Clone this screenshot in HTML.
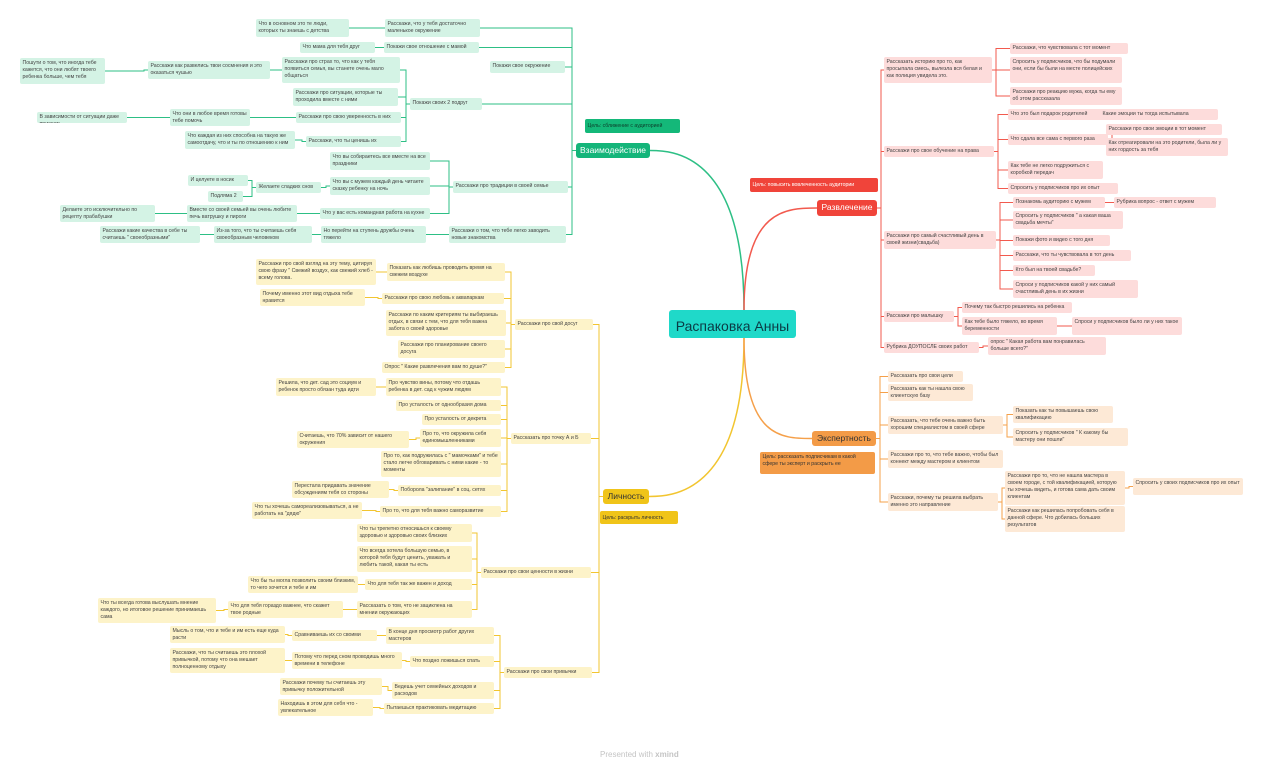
<!DOCTYPE html>
<html><head><meta charset="utf-8"><style>
body{margin:0;width:1280px;height:765px;background:#fff;position:relative;overflow:hidden;font-family:"Liberation Sans","Noto Sans CJK SC",sans-serif}
.n{position:absolute;font-size:5.2px;line-height:7.3px;padding:1.5px 2.5px;border-radius:2px;box-sizing:border-box;color:#444;overflow:hidden}
.g{background:#d4f3e5}.r{background:#fddcdb}.o{background:#fde9d6}.y{background:#fdf3c9}
.b{font-size:8.5px;line-height:14px;border-radius:3px;text-align:center;padding:0 4px}
svg{position:absolute;left:0;top:0}
</style></head><body>
<svg id="s" width="1280" height="765"></svg>
<div class="n" id="C" style="left:669px;top:310px;width:127px;height:28px;background:#1fd9c9;font-size:14px;line-height:28px;text-align:center;color:#0b3a44;border-radius:3px">Распаковка Анны</div>
<div class="n b" id="G" style="left:576px;top:143px;width:74px;height:15px;background:#14b57a;color:#fff">Взаимодействие</div>
<div class="n b" id="R" style="left:817px;top:200px;width:60px;height:16px;background:#f0443a;color:#fff">Развлечение</div>
<div class="n b" id="O" style="left:812px;top:431px;width:64px;height:15px;background:#f39b47;color:#333">Экспертность</div>
<div class="n b" id="Y" style="left:603px;top:489px;width:46px;height:15px;background:#f0c419;color:#333">Личность</div>
<div class="n" style="left:585px;top:119px;width:95px;height:14px;background:#14b879;color:#0c3d2a;line-height:11px">Цель: сближение с аудиторией</div>
<div class="n" style="left:750px;top:178px;width:128px;height:14px;background:#f0443a;color:#fff;line-height:11px">Цель: повысить вовлеченность аудитории</div>
<div class="n" style="left:760px;top:452px;width:115px;height:22px;background:#f39b47;color:#333">Цель: рассказать подписчикам в какой сфере ты эксперт и раскрыть ее</div>
<div class="n" style="left:600px;top:511px;width:78px;height:13px;background:#f0c419;color:#333;line-height:10px">Цель: раскрыть личность</div>

<!-- green -->
<div class="n g" id="g1" style="left:490px;top:61px;width:75px;height:12px">Покажи свое окружение</div>
<div class="n g" id="g2" style="left:385px;top:19px;width:95px;height:18px">Расскажи, что у тебя достаточно маленькое окружение</div>
<div class="n g" id="g3" style="left:256px;top:19px;width:93px;height:18px">Что в основном это те люди, которых ты знаешь с детства</div>
<div class="n g" id="g4" style="left:384px;top:42px;width:95px;height:11px">Покажи свое отношение с мамой</div>
<div class="n g" id="g5" style="left:300px;top:42px;width:75px;height:11px">Что мама для тебя друг</div>
<div class="n g" id="g6" style="left:410px;top:98px;width:72px;height:12px">Покажи своих 2 подруг</div>
<div class="n g" id="g7" style="left:282px;top:57px;width:118px;height:26px">Расскажи про страх то, что как у тебя появиться семья, вы станете очень мало общаться</div>
<div class="n g" id="g8" style="left:148px;top:61px;width:122px;height:18px">Расскажи как развелись твои сосмнения и это оказаться чушью</div>
<div class="n g" id="g9" style="left:20px;top:58px;width:85px;height:26px">Пошути о том, что иногда тебе кажется, что они любят твоего ребенка больше, чем тебя</div>
<div class="n g" id="g10" style="left:293px;top:88px;width:105px;height:18px">Расскажи про ситуации, которые ты проходила вместе с ними</div>
<div class="n g" id="g11" style="left:296px;top:112px;width:105px;height:11px">Расскажи про свою уверенность в них</div>
<div class="n g" id="g12" style="left:170px;top:109px;width:80px;height:17px">Что они в любое время готовы тебе помочь</div>
<div class="n g" id="g13" style="left:37px;top:112px;width:90px;height:11px">В зависимости от ситуации даже приехать</div>
<div class="n g" id="g14" style="left:306px;top:136px;width:95px;height:11px">Расскажи, что ты ценишь их</div>
<div class="n g" id="g15" style="left:185px;top:131px;width:110px;height:18px">Что каждая из них способна на такую же самоотдачу, что и ты по отношению к ним</div>
<div class="n g" id="g16" style="left:453px;top:181px;width:115px;height:12px">Расскажи про традиции в своей семье</div>
<div class="n g" id="g17" style="left:330px;top:152px;width:100px;height:18px">Что вы собираетесь все вместе на все праздники</div>
<div class="n g" id="g18" style="left:330px;top:177px;width:100px;height:18px">Что вы с мужем каждый день читаете сказку ребенку на ночь</div>
<div class="n g" id="g19" style="left:256px;top:182px;width:65px;height:11px">Желаете сладких снов</div>
<div class="n g" id="g20" style="left:188px;top:175px;width:60px;height:11px">И целуете в носик</div>
<div class="n g" id="g21" style="left:208px;top:191px;width:35px;height:11px">Подляма 2</div>
<div class="n g" id="g22" style="left:320px;top:208px;width:110px;height:11px">Что у вас есть командная работа на кухне</div>
<div class="n g" id="g23" style="left:187px;top:205px;width:110px;height:17px">Вместе со своей семьей вы очень любите печь ватрушку и пироги</div>
<div class="n g" id="g24" style="left:60px;top:205px;width:95px;height:17px">Делаете это исключительно по рецепту прабабушки</div>
<div class="n g" id="g25" style="left:449px;top:226px;width:117px;height:17px">Расскажи о том, что тебе легко заводить новые знакомства</div>
<div class="n g" id="g26" style="left:321px;top:226px;width:105px;height:17px">Но перейти на ступень дружбы очень тяжело</div>
<div class="n g" id="g27" style="left:214px;top:226px;width:98px;height:17px">Из-за того, что ты считаешь себя своеобразным человеком</div>
<div class="n g" id="g28" style="left:100px;top:226px;width:100px;height:17px">Расскажи какие качества в себе ты считаешь " своеобразными"</div>

<!-- red -->
<div class="n r" id="r1" style="left:884px;top:57px;width:108px;height:26px">Рассказать историю про то, как просыпала смесь, вылезла вся белая и как полиция увидела это.</div>
<div class="n r" id="r2" style="left:1010px;top:43px;width:118px;height:11px">Расскажи, что чувствовала с тот момент</div>
<div class="n r" id="r3" style="left:1010px;top:57px;width:112px;height:26px">Спросить у подписчиков, что бы подумали они, если бы были на месте полицейских</div>
<div class="n r" id="r4" style="left:1010px;top:87px;width:112px;height:18px">Расскажи про реакцию мужа, когда ты ему об этом рассказала</div>
<div class="n r" id="r5" style="left:884px;top:146px;width:110px;height:11px">Расскажи про свое обучение на права</div>
<div class="n r" id="r6" style="left:1008px;top:109px;width:95px;height:11px">Что это был подарок родителей</div>
<div class="n r" id="r7" style="left:1100px;top:109px;width:118px;height:11px">Какие эмоции ты тогда испытывала</div>
<div class="n r" id="r8" style="left:1008px;top:134px;width:100px;height:11px">Что сдала все сама с первого раза</div>
<div class="n r" id="r9" style="left:1106px;top:124px;width:116px;height:11px">Расскажи про свои эмоции в тот момент</div>
<div class="n r" id="r10" style="left:1106px;top:138px;width:122px;height:18px">Как отреагировали на это родители, была ли у них гордость за тебя</div>
<div class="n r" id="r11" style="left:1008px;top:161px;width:95px;height:18px">Как тебе не легко подружиться с коробкой передач</div>
<div class="n r" id="r12" style="left:1008px;top:183px;width:110px;height:11px">Спросить у подписчиков про их опыт</div>
<div class="n r" id="r13" style="left:884px;top:231px;width:112px;height:18px">Расскажи про самый счастливый день в своей жизни(свадьба)</div>
<div class="n r" id="r14" style="left:1013px;top:197px;width:92px;height:11px">Познакомь аудиторию с мужем</div>
<div class="n r" id="r15" style="left:1114px;top:197px;width:102px;height:11px">Рубрика вопрос - ответ с мужем</div>
<div class="n r" id="r16" style="left:1013px;top:211px;width:110px;height:18px">Спросить у подписчиков " а какая ваша свадьба мечты"</div>
<div class="n r" id="r17" style="left:1013px;top:235px;width:97px;height:11px">Покажи фото и видео с того дня</div>
<div class="n r" id="r18" style="left:1013px;top:250px;width:118px;height:11px">Расскажи, что ты чувствовала в тот день</div>
<div class="n r" id="r19" style="left:1013px;top:265px;width:82px;height:11px">Кто был на твоей свадьбе?</div>
<div class="n r" id="r20" style="left:1013px;top:280px;width:125px;height:18px">Спроси у подписчиков какой у них самый счастливый день в их жизни</div>
<div class="n r" id="r21" style="left:884px;top:311px;width:70px;height:11px">Расскажи про малышку</div>
<div class="n r" id="r22" style="left:962px;top:302px;width:110px;height:11px">Почему так быстро решились на ребенка</div>
<div class="n r" id="r23" style="left:962px;top:317px;width:95px;height:18px">Как тебе было тяжело, во время беременности</div>
<div class="n r" id="r24" style="left:1072px;top:317px;width:110px;height:18px">Спроси у подписчиков было ли у них такое</div>
<div class="n r" id="r25" style="left:884px;top:342px;width:95px;height:11px">Рубрика ДОУПОСЛЕ своих работ</div>
<div class="n r" id="r26" style="left:988px;top:337px;width:118px;height:18px">опрос " Какая работа вам понравилась больше всего?"</div>

<!-- orange -->
<div class="n o" id="o1" style="left:888px;top:371px;width:75px;height:11px">Рассказать про свои цели</div>
<div class="n o" id="o2" style="left:888px;top:384px;width:85px;height:17px">Рассказать как ты нашла свою клиентскую базу</div>
<div class="n o" id="o3" style="left:888px;top:416px;width:115px;height:18px">Рассказать, что тебе очень важно быть хорошим специалистом в своей сфере</div>
<div class="n o" id="o4" style="left:1013px;top:406px;width:100px;height:17px">Показать как ты повышаешь свою квалификацию</div>
<div class="n o" id="o5" style="left:1013px;top:428px;width:115px;height:18px">Спросить у подписчиков " К какому бы мастеру они пошли"</div>
<div class="n o" id="o6" style="left:888px;top:450px;width:115px;height:18px">Расскажи про то, что тебе важно, чтобы был коннект между мастером и клиентом</div>
<div class="n o" id="o7" style="left:888px;top:493px;width:110px;height:18px">Расскажи, почему ты решила выбрать именно это направление</div>
<div class="n o" id="o8" style="left:1005px;top:471px;width:120px;height:34px">Расскажи про то, что не нашла мастера в своем городе, с той квалификацией, которую ты хочешь видеть, и готова сама дать своим клиентам</div>
<div class="n o" id="o9" style="left:1133px;top:478px;width:110px;height:17px">Спросить у своих подписчиков про их опыт</div>
<div class="n o" id="o10" style="left:1005px;top:506px;width:120px;height:26px">Расскажи как решилась попробовать себя в данной сфере. Что добилась больших результатов</div>

<!-- yellow -->
<div class="n y" id="y1" style="left:515px;top:319px;width:78px;height:11px">Расскажи про свой досуг</div>
<div class="n y" id="y2" style="left:387px;top:263px;width:118px;height:18px">Показать как любишь проводить время на свежем воздухе</div>
<div class="n y" id="y3" style="left:256px;top:259px;width:120px;height:26px">Расскажи про свой взгляд на эту тему, цитируя свою фразу " Свежий воздух, как свежий хлеб - всему голова.</div>
<div class="n y" id="y4" style="left:382px;top:293px;width:122px;height:11px">Расскажи про свою любовь к аквапаркам</div>
<div class="n y" id="y5" style="left:260px;top:289px;width:105px;height:17px">Почему именно этот вид отдыха тебе нравится</div>
<div class="n y" id="y6" style="left:386px;top:310px;width:120px;height:26px">Расскажи по каким критериям ты выбираешь отдых, в связи с тем, что для тебя важна забота о своей здоровье</div>
<div class="n y" id="y7" style="left:398px;top:340px;width:107px;height:18px">Расскажи про планирование своего досуга</div>
<div class="n y" id="y8" style="left:382px;top:362px;width:123px;height:11px">Опрос " Какие развлечения вам по душе?"</div>
<div class="n y" id="y9" style="left:511px;top:433px;width:80px;height:11px">Рассказать про точку А и Б</div>
<div class="n y" id="y10" style="left:386px;top:378px;width:115px;height:18px">Про чувство вины, потому что отдашь ребенка в дет. сад к чужим людям</div>
<div class="n y" id="y11" style="left:276px;top:378px;width:100px;height:18px">Решила, что дет. сад это социум и ребенок просто обязан туда идти</div>
<div class="n y" id="y12" style="left:396px;top:400px;width:105px;height:11px">Про усталость от однообразия дома</div>
<div class="n y" id="y13" style="left:422px;top:414px;width:79px;height:11px">Про усталость от декрета</div>
<div class="n y" id="y14" style="left:420px;top:429px;width:81px;height:18px">Про то, что окружила себя единомышленниками</div>
<div class="n y" id="y15" style="left:297px;top:431px;width:112px;height:17px">Считаешь, что 70% зависит от нашего окружения</div>
<div class="n y" id="y16" style="left:381px;top:451px;width:120px;height:26px">Про то, как подружилась с " мамочками" и тебе стало легче обговаривать с ними какие - то моменты</div>
<div class="n y" id="y17" style="left:292px;top:481px;width:97px;height:17px">Перестала придавать значение обсуждениям тебя со стороны</div>
<div class="n y" id="y18" style="left:398px;top:485px;width:103px;height:11px">Поборола "залипание"  в соц. сетях</div>
<div class="n y" id="y19" style="left:380px;top:506px;width:121px;height:11px">Про то, что для тебя важно саморазвитие</div>
<div class="n y" id="y20" style="left:252px;top:502px;width:110px;height:17px">Что ты хочешь самореализовываться, а не работать на "дядю"</div>
<div class="n y" id="y21" style="left:481px;top:567px;width:110px;height:11px">Расскажи про свои ценности в жизни</div>
<div class="n y" id="y22" style="left:357px;top:524px;width:115px;height:18px">Что ты трепетно относишься к своему здоровью и здоровью своих близких</div>
<div class="n y" id="y23" style="left:357px;top:546px;width:115px;height:26px">Что всегда хотела большую семью, в которой тебя будут ценить, уважать и любить такой, какая ты есть</div>
<div class="n y" id="y24" style="left:365px;top:579px;width:107px;height:11px">Что для тебя так же важен и доход</div>
<div class="n y" id="y25" style="left:248px;top:576px;width:110px;height:17px">Что бы ты могла позволить своим близким, то чего хочется и тебе и им</div>
<div class="n y" id="y26" style="left:357px;top:601px;width:115px;height:17px">Рассказать о том, что не зациклена на мнении окружающих</div>
<div class="n y" id="y27" style="left:228px;top:601px;width:115px;height:17px">Что для тебя гораздо важнее, что скажет твое родные</div>
<div class="n y" id="y28" style="left:98px;top:598px;width:118px;height:25px">Что ты всегда готова выслушать мнение каждого, но итоговое решение принимаешь сама</div>
<div class="n y" id="y29" style="left:504px;top:667px;width:88px;height:11px">Расскажи про свои привычки</div>
<div class="n y" id="y30" style="left:386px;top:627px;width:108px;height:17px">В конце дня просмотр работ других мастеров</div>
<div class="n y" id="y31" style="left:292px;top:630px;width:85px;height:11px">Сравниваешь их со своими</div>
<div class="n y" id="y32" style="left:170px;top:626px;width:115px;height:17px">Мысль о том, что и тебе и им есть еще куда расти</div>
<div class="n y" id="y33" style="left:410px;top:656px;width:84px;height:11px">Что поздно ложишься спать</div>
<div class="n y" id="y34" style="left:292px;top:652px;width:110px;height:17px">Потому что перед сном проводишь много времени в телефоне</div>
<div class="n y" id="y35" style="left:170px;top:648px;width:115px;height:25px">Расскажи, что ты считаешь это плохой привычкой, потому что она мешает полноценному отдыху</div>
<div class="n y" id="y36" style="left:392px;top:682px;width:102px;height:17px">Ведешь учет семейных доходов и расходов</div>
<div class="n y" id="y37" style="left:280px;top:678px;width:102px;height:17px">Расскажи почему ты считаешь эту привычку положительной</div>
<div class="n y" id="y38" style="left:384px;top:703px;width:110px;height:11px">Пытаешься практиковать медитацию</div>
<div class="n y" id="y39" style="left:278px;top:699px;width:95px;height:17px">Находишь в этом для себя что - увлекательное</div>
<div style="position:absolute;left:600px;top:750px;font-size:8px;color:#c4c4c4">Presented with <b>xmind</b></div>
<script>
var E={G:[['g1','g2','g4','g6','g16','g25']],g2:[['g3']],g4:[['g5']],g6:[['g7','g10','g11','g14']],g7:[['g8']],g8:[['g9']],g11:[['g12']],g12:[['g13']],g14:[['g15']],g16:[['g17','g18','g22']],g18:[['g19']],g19:[['g20','g21']],g22:[['g23']],g23:[['g24']],g25:[['g26']],g26:[['g27']],g27:[['g28']],
R:[['r1','r5','r13','r21','r25']],r1:[['r2','r3','r4']],r5:[['r6','r8','r11','r12']],r6:[['r7']],r8:[['r9','r10']],r13:[['r14','r16','r17','r18','r19','r20']],r14:[['r15']],r21:[['r22','r23']],r23:[['r24']],r25:[['r26']],
O:[['o1','o2','o3','o6','o7']],o3:[['o4','o5']],o7:[['o8','o10']],o8:[['o9']],
Y:[['y1','y9','y21','y29']],y1:[['y2','y4','y6','y7','y8']],y2:[['y3']],y4:[['y5']],y9:[['y10','y12','y13','y14','y16','y18','y19']],y10:[['y11']],y14:[['y15']],y18:[['y17']],y19:[['y20']],y21:[['y22','y23','y24','y26']],y24:[['y25']],y26:[['y27']],y27:[['y28']],y29:[['y30','y33','y36','y38']],y30:[['y31']],y31:[['y32']],y33:[['y34']],y34:[['y35']],y36:[['y37']],y38:[['y39']]};
var col={g:'#2dbf85',r:'#f25a4e',o:'#f5a04a',y:'#f2c530',G:'#2dbf85',R:'#f25a4e',O:'#f5a04a',Y:'#f2c530'};
function b(id){var e=document.getElementById(id);return{l:e.offsetLeft,t:e.offsetTop,r:e.offsetLeft+e.offsetWidth,m:e.offsetTop+e.offsetHeight/2}}
var h='';
for(var p in E){var P=b(p),c=col[p[0]];E[p][0].forEach(function(k){var K=b(k);
if(K.l<P.l){var x=P.l-4;h+='<path d="M'+P.l+' '+P.m+'H'+x+'V'+K.m+'H'+K.r+'" stroke="'+c+'" fill="none" stroke-width="1"/>'}
else{var x=P.r+4;h+='<path d="M'+P.r+' '+P.m+'H'+x+'V'+K.m+'H'+K.l+'" stroke="'+c+'" fill="none" stroke-width="1"/>'}});}
var C=b('C');
[['G','#2dbf85',1],['Y','#f2c530',1],['R','#f25a4e',0],['O','#f5a04a',0]].forEach(function(a){var K=b(a[0]);
var sx=C.l+75,sy=(a[0]=='G'||a[0]=='R')?C.t:C.t+28;
if(a[2]){h+='<path d="M'+sx+' '+sy+'C'+sx+' '+K.m+' '+(K.r+20)+' '+K.m+' '+K.r+' '+K.m+'" stroke="'+a[1]+'" fill="none" stroke-width="1.5"/>'}
else{h+='<path d="M'+sx+' '+sy+'C'+sx+' '+K.m+' '+(K.l-30)+' '+K.m+' '+K.l+' '+K.m+'" stroke="'+a[1]+'" fill="none" stroke-width="1.5"/>'}});
document.getElementById('s').innerHTML=h;
</script>
</body></html>
